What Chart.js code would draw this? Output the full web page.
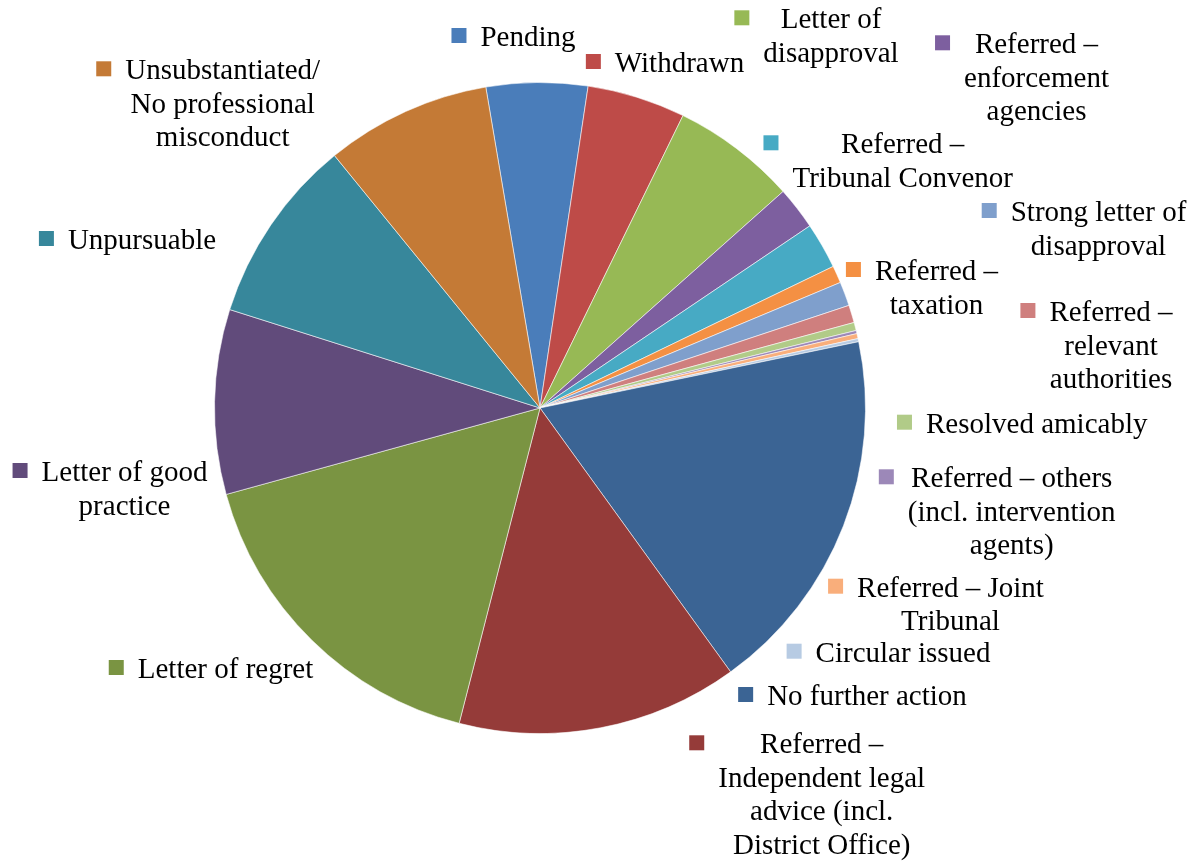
<!DOCTYPE html>
<html>
<head>
<meta charset="utf-8">
<script src="https://cdn.jsdelivr.net/npm/chart.js@4/dist/chart.umd.min.js"></script>
<style>
  html, body { margin: 0; padding: 0; background: #ffffff; }
  #wrap { width: 1204px; height: 863px; }
</style>
</head>
<body>
<div id="wrap"><canvas id="complaints" width="1204" height="863"></canvas></div>
<script>
// outcome categories, in slice order (clockwise), one entry per label line
const categories = [
    ['Pending'],
    ['Withdrawn'],
    ['Letter of', 'disapproval'],
    ['Referred \u2013', 'enforcement', 'agencies'],
    ['Referred \u2013', 'Tribunal Convenor'],
    ['Referred \u2013', 'taxation'],
    ['Strong letter of', 'disapproval'],
    ['Referred \u2013', 'relevant', 'authorities'],
    ['Resolved amicably'],
    ['Referred \u2013 others', '(incl. intervention', 'agents)'],
    ['Referred \u2013 Joint', 'Tribunal'],
    ['Circular issued'],
    ['No further action'],
    ['Referred \u2013', 'Independent legal', 'advice (incl.', 'District Office)'],
    ['Letter of regret'],
    ['Letter of good', 'practice'],
    ['Unpursuable'],
    ['Unsubstantiated/', 'No professional', 'misconduct']
];

// share of cases per outcome
const shares = [18.1, 17.55, 22.25, 7.67, 8.25, 3.09, 4.31, 3.14, 1.46, 0.56, 0.9, 0.56,
                65.91, 50.23, 60.22, 33.0, 33.25, 29.56];

const sliceColors = [
    '#4A7DBA', '#BE4B48', '#97B955', '#7D5F9F', '#47AAC4', '#F49043',
    '#7F9FCC', '#CF7F7E', '#B1CB88', '#9C88B8', '#F9AE7B', '#B7CBE3',
    '#3B6494', '#953B39', '#7A9442', '#614B7B', '#37879B', '#C47A36'
];

// label text anchors: centre x and first-line baseline
const labelX = [528, 679.5, 831, 1036.5, 902.7, 936.5, 1098.5, 1111, 1036.7, 1011.7,
                950.5, 903, 867, 821.7, 225.5, 124.5, 142, 222.7];
const labelY = [46, 72, 28.3, 53.3, 153.3, 280, 221, 321, 432.7, 487.3,
                596.7, 661.7, 705, 753.3, 678, 481, 249, 79.3];

const FONT = '29px "Liberation Serif", "Times New Roman", serif';
const LINE_H = 33.5;
const KEY = 15;
const KEY_GAP = 14;

// draws each data label with its colour key to the left of the text block
const sideLabels = {
    id: 'sideLabels',
    afterDraw(chart){
        const ctx = chart.ctx;
        const ds = chart.data.datasets[0];
        ctx.save();
        ctx.font = FONT;
        ctx.fillStyle = '#000000';
        ctx.textAlign = 'center';
        ctx.textBaseline = 'alphabetic';
        chart.data.labels.forEach((lines, i) => {
            const cx = labelX[i];
            const y0 = labelY[i];
            let maxW = 0;
            lines.forEach(l => { maxW = Math.max(maxW, ctx.measureText(l).width); });

            // colour key
            ctx.fillStyle = ds.backgroundColor[i];
            ctx.fillRect(cx - maxW / 2 - KEY_GAP - KEY, y0 - 10.5 - KEY / 2, KEY, KEY);

            ctx.fillStyle = '#000000';
            lines.forEach((l, j) => ctx.fillText(l, cx, y0 + j * LINE_H));
        });
        ctx.restore();
    }
};

const chart = new Chart(document.getElementById('complaints').getContext('2d'), {
    type: 'pie',
    data: {
        labels: categories,
        datasets: [{
            data: shares,
            backgroundColor: sliceColors,
            borderColor: 'rgba(255, 255, 255, 0.55)',
            borderWidth: 1,
            radius: 325.5
        }]
    },
    options: {
        responsive: false,
        animation: false,
        rotation: -9.59,
        layout: {
            padding: { left: 214, right: 338, top: 82, bottom: 129 }
        },
        plugins: {
            legend: { display: false },
            tooltip: { enabled: false }
        }
    },
    plugins: [sideLabels]
});
</script>
</body>
</html>
